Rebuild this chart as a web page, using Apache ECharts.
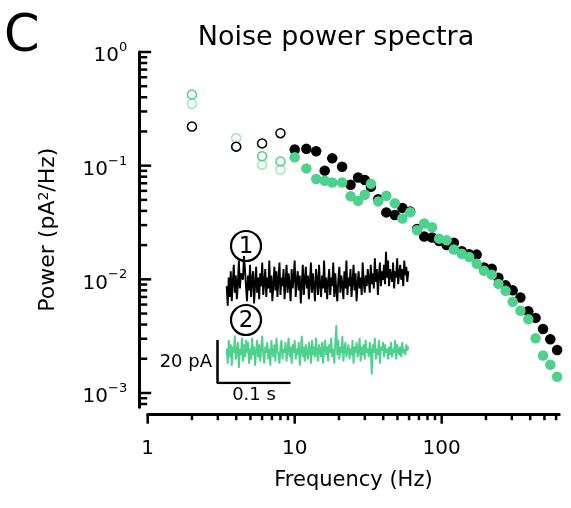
<!DOCTYPE html>
<html><head><meta charset="utf-8">
<script src="https://cdn.jsdelivr.net/npm/echarts@6/dist/echarts.min.js"></script>
<style>html,body{margin:0;padding:0;background:#fff}#c{width:571px;height:508px}</style>
</head><body><div id="c"></div>
<script>
// ---------- data ----------
const freqOpen = [2, 4, 6, 8];
const openBlack = [0.221, 0.147, 0.157, 0.193];
const openGreenA = [0.422, 0.147, 0.121, 0.109];
const openGreenB = [0.349, 0.175, 0.102, 0.092];

const freq = [10,12,14,16,18,21,24,27,30,33,37,42,48,54,61,68,76,86,96,108,121,137,154,173,194,219,243,272,304,343,388,435,489,548,610];
const powerBlack = [0.1386,0.1406,0.134,0.0904,0.116,0.098,0.068,0.0788,0.0747,0.0652,0.0506,0.0388,0.0368,0.0425,0.0396,0.0277,0.0238,0.0233,0.0217,0.020,0.021,0.0177,0.0166,0.0165,0.0127,0.0124,0.01035,0.00885,0.0080,0.00693,0.00525,0.00458,0.00365,0.00297,0.00239];
const powerGreen = [0.1184,0.0946,0.0762,0.0736,0.0711,0.0711,0.0539,0.049,0.0554,0.0693,0.0485,0.0543,0.0466,0.0343,0.0389,0.027,0.031,0.0287,0.0228,0.0221,0.0183,0.0168,0.0157,0.0137,0.0119,0.011,0.00912,0.00794,0.00635,0.0053,0.00446,0.00303,0.00214,0.00177,0.00139];

const xTickLabels = [1, 10, 100];
const xMinorTicks = [2,3,4,5,6,7,8,9,20,30,40,50,60,70,80,90,200,300,400,500,600];
const yTickLabels = [0.001, 0.01, 0.1, 1];
const yMinorTicks = [0.0008,0.0009,0.002,0.003,0.004,0.005,0.006,0.007,0.008,0.009,0.02,0.03,0.04,0.05,0.06,0.07,0.08,0.09,0.2,0.3,0.4,0.5,0.6,0.7,0.8,0.9];

// inset current traces (pA), sampled every traceDt seconds starting at traceT0
const traceT0 = 0.0126;
const traceDt = 0.00139;
const trace1 = [
45,36,49,40,52,38,47,55,42,50,39,46,57,44,51,51,48,59,53,45,
38,50,43,55,40,48,52,37,46,54,42,49,39,51,45,56,41,47,53,40,
49,44,57,42,50,38,46,54,43,52,40,48,56,41,49,45,53,39,47,55,
42,51,46,38,53,44,49,57,40,47,52,43,50,37,46,55,41,48,54,44,
50,39,47,56,42,51,45,38,53,48,41,55,46,40,50,44,57,42,49,39,
47,53,41,49,45,56,40,51,43,38,48,54,42,50,46,39,52,44,57,41,
49,45,53,40,47,55,43,51,38,46,52,44,49,41,56,47,42,50,45,53,
48,42,55,46,51,44,58,47,53,41,50,56,45,52,48,55,46,61,49,57,
45,53,50,47,56,44,52,49,58,46,51,55,48,53,45,57,50,54,47,52];
const trace2 = [
16,9,20,12,18,8,17,14,22,11,15,19,7,16,13,21,10,18,12,20,
14,19,9,16,11,21,13,17,8,15,20,12,18,10,16,22,13,9,17,14,
19,11,16,8,20,14,12,18,10,21,15,13,9,17,20,11,16,14,19,10,
15,21,12,17,9,18,14,20,11,16,13,19,8,15,22,12,17,10,18,14,
11,19,16,9,20,13,17,12,21,14,10,18,15,12,19,9,16,20,13,17,
10,18,14,21,12,16,9,19,27,13,20,11,17,14,22,10,16,19,12,15,
18,11,16,13,20,9,17,14,19,12,15,21,10,17,13,18,11,20,14,16,
12,19,15,4,18,14,21,11,16,13,20,9,17,15,19,12,18,14,16,11,
17,13,19,12,16,14,20,11,18,15,13,17,12,19,14,16,13,18,15,17];
const scaleBarTime = 0.1;   // s
const scaleBarCurrent = 20; // pA

// ---------- style ----------
const FONT = 'DejaVu Sans';
const GREEN = '#4ED18C';
const GREEN_LIGHT = '#A3E6C1';
const X_MIN = 1, X_MAX = 630, Y_MIN = 0.00075, Y_MAX = 1;
const X_OFFSET = 7.5, Y_OFFSET = 8.5;

const zip = (a, b) => a.map((v, i) => [v, b[i]]);
const traceData = tr => tr.map((v, i) => [traceT0 + i * traceDt, v]);

const tickData = [].concat(
  xTickLabels.map(v => [v, Y_MIN, 0]),
  xMinorTicks.map(v => [v, Y_MIN, 1]),
  yTickLabels.map(v => [X_MIN, v, 2]),
  yMinorTicks.map(v => [X_MIN, v, 3])
);

function renderTick(params, api) {
  const kind = api.value(2);
  const p = api.coord([api.value(0), api.value(1)]);
  let shape;
  if (kind < 2) {
    const y0 = p[1] + X_OFFSET;
    shape = {x1: p[0], y1: y0, x2: p[0], y2: y0 + (kind === 0 ? 9 : 5.5)};
  } else {
    const x0 = p[0] - Y_OFFSET;
    shape = {x1: x0, y1: p[1], x2: x0 + (kind === 2 ? 12 : 8), y2: p[1]};
  }
  return {type: 'line', shape: shape, style: {stroke: '#000', lineWidth: 2.5}};
}

const chart = echarts.init(document.getElementById('c'));
const openStyle = c => ({color: 'transparent', borderColor: c, borderWidth: 1.5, opacity: 1});

chart.setOption({
  animation: false,
  textStyle: {fontFamily: FONT, color: '#000'},
  grid: [
    {left: 147.7, right: 11.8, top: 52, bottom: 100.8},
    {left: 217.5, width: 219, top: 211, height: 172}
  ],
  xAxis: [{
    type: 'log', logBase: 10, min: X_MIN, max: X_MAX, gridIndex: 0, offset: X_OFFSET,
    axisLine: {lineStyle: {color: '#000', width: 3}},
    axisTick: {show: false}, splitLine: {show: false},
    axisLabel: {fontSize: 20, color: '#000', margin: 24, showMaxLabel: false, fontFamily: FONT,
      formatter: v => String(v)},
    name: 'Frequency (Hz)', nameLocation: 'middle', nameGap: 55,
    nameTextStyle: {fontSize: 21, color: '#000', fontFamily: FONT}
  }, {
    type: 'value', gridIndex: 1, min: 0, max: 0.3, show: false
  }],
  yAxis: [{
    type: 'log', logBase: 10, min: Y_MIN, max: Y_MAX, gridIndex: 0, offset: Y_OFFSET,
    axisLine: {lineStyle: {color: '#000', width: 3}},
    axisTick: {show: false}, splitLine: {show: false},
    axisLabel: {margin: 12, showMinLabel: false, padding: [8, 0, 0, 0],
      formatter: v => '{b|10}{s|' + String(Math.round(Math.log10(v))).replace('-', '\u2212') + '}',
      rich: {b: {fontSize: 20, lineHeight: 30, fontFamily: FONT, color: '#000'},
             s: {fontSize: 13, lineHeight: 10, verticalAlign: 'top', fontFamily: FONT, color: '#000'}}},
    name: 'Power (pA{s|2}/Hz)', nameLocation: 'middle', nameGap: 80,
    nameTextStyle: {fontSize: 22, color: '#000', fontFamily: FONT,
      rich: {s: {fontSize: 14, lineHeight: 10, verticalAlign: 'top', fontFamily: FONT, color: '#000'}}}
  }, {
    type: 'value', gridIndex: 1, min: 0, max: 80, show: false
  }],
  graphic: [
    {type: 'text', left: 4, top: 12, style: {text: 'C', fontSize: 51, fontFamily: FONT, fill: '#000'}},
    {type: 'text', x: 336, y: 38, style: {text: 'Noise power spectra', fontSize: 27, fontFamily: FONT, fill: '#000', align: 'center', verticalAlign: 'middle'}},
    {type: 'circle', shape: {cx: 246, cy: 246, r: 15}, style: {fill: '#fff', stroke: '#000', lineWidth: 2.2}},
    {type: 'text', x: 246, y: 247, style: {text: '1', fontSize: 23, fontFamily: FONT, fill: '#000', align: 'center', verticalAlign: 'middle'}},
    {type: 'circle', shape: {cx: 246, cy: 320, r: 15}, style: {fill: '#fff', stroke: '#000', lineWidth: 2.2}},
    {type: 'text', x: 246, y: 321, style: {text: '2', fontSize: 23, fontFamily: FONT, fill: '#000', align: 'center', verticalAlign: 'middle'}},
    {type: 'text', x: 212, y: 362, style: {text: '20 pA', fontSize: 18, fontFamily: FONT, fill: '#000', align: 'right', verticalAlign: 'middle'}},
    {type: 'text', x: 254, y: 395, style: {text: '0.1 s', fontSize: 18, fontFamily: FONT, fill: '#000', align: 'center', verticalAlign: 'middle'}}
  ],
  series: [
    {type: 'custom', xAxisIndex: 0, yAxisIndex: 0, renderItem: renderTick, data: tickData,
     dimensions: ['x', 'y', 'k'], encode: {x: 0, y: 1}, clip: false, silent: true, z: 5},
    {type: 'scatter', xAxisIndex: 0, yAxisIndex: 0, data: zip(freqOpen, openGreenB), symbolSize: 9, itemStyle: openStyle(GREEN_LIGHT)},
    {type: 'scatter', xAxisIndex: 0, yAxisIndex: 0, data: zip(freqOpen, openGreenA), symbolSize: 9, itemStyle: openStyle(GREEN)},
    {type: 'scatter', xAxisIndex: 0, yAxisIndex: 0, data: zip(freqOpen, openBlack), symbolSize: 9, itemStyle: openStyle('#000')},
    {type: 'scatter', xAxisIndex: 0, yAxisIndex: 0, data: zip(freq, powerBlack), symbolSize: 10.5, itemStyle: {color: '#000', opacity: 1}},
    {type: 'scatter', xAxisIndex: 0, yAxisIndex: 0, data: zip(freq, powerGreen), symbolSize: 10.5, itemStyle: {color: GREEN, opacity: 1}},
    {type: 'line', xAxisIndex: 1, yAxisIndex: 1, data: traceData(trace1), showSymbol: false, symbol: 'none',
     lineStyle: {color: '#000', width: 1.9}},
    {type: 'line', xAxisIndex: 1, yAxisIndex: 1, data: traceData(trace2), showSymbol: false, symbol: 'none',
     lineStyle: {color: GREEN, width: 1.9}},
    {type: 'line', xAxisIndex: 1, yAxisIndex: 1,
     data: [[0, scaleBarCurrent], [0, 0], [scaleBarTime, 0]], showSymbol: false, symbol: 'none',
     lineStyle: {color: '#000', width: 2.5}}
  ]
});
</script></body></html>
